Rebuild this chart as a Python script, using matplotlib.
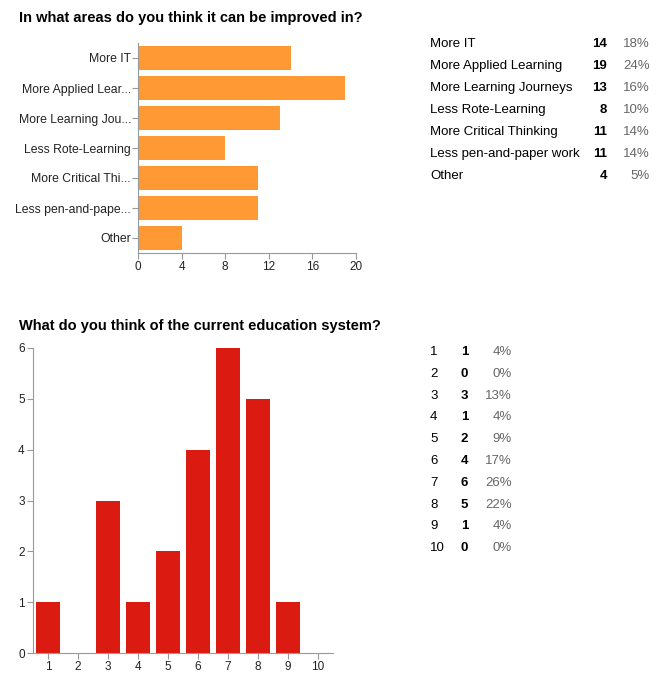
import matplotlib.pyplot as plt
import numpy as np

plt.rcParams['font.family'] = ['Liberation Sans', 'DejaVu Sans']

# top chart data
areas = ["More IT", "More Applied Learning", "More Learning Journeys", "Less Rote-Learning",
         "More Critical Thinking", "Less pen-and-paper work", "Other"]
area_short = ["More IT", "More Applied Lear...", "More Learning Jou...", "Less Rote-Learning",
              "More Critical Thi...", "Less pen-and-pape...", "Other"]
area_counts = [14, 19, 13, 8, 11, 11, 4]
area_pcts = ["18%", "24%", "16%", "10%", "14%", "14%", "5%"]

# bottom chart data
ratings = [1, 2, 3, 4, 5, 6, 7, 8, 9, 10]
rating_counts = [1, 0, 3, 1, 2, 4, 6, 5, 1, 0]
rating_pcts = ["4%", "0%", "13%", "4%", "9%", "17%", "26%", "22%", "4%", "0%"]

W, H = 671, 678
fig = plt.figure(figsize=(W / 100, H / 100), dpi=100)

def fx(px):
    return px / W

def fy(py):
    return 1 - py / H

grey = "#999999"

def style_axes(ax):
    for s in ["top", "right"]:
        ax.spines[s].set_visible(False)
    ax.spines["left"].set_color(grey)
    ax.spines["bottom"].set_color(grey)
    ax.tick_params(colors=grey, labelcolor="#222222", length=4, width=0.8, pad=2)

# ---- top chart ----
ax1 = fig.add_axes([fx(138), fy(253), fx(356 - 138), (253 - 43) / H])
ypos = np.arange(len(areas))
ax1.barh(ypos, area_counts, height=0.8, color="#FF9933")
ax1.set_ylim(len(areas) - 0.5, -0.5)
ax1.set_xlim(0, 20)
ax1.set_xticks([0, 4, 8, 12, 16, 20])
ax1.set_yticks(ypos)
ax1.set_yticklabels(area_short, fontsize=8.8)
ax1.tick_params(axis="x", labelsize=8.5)
style_axes(ax1)
ax1.tick_params(axis="y", pad=1)

fig.text(fx(19), fy(18), "In what areas do you think it can be improved in?",
         fontsize=10.5, fontweight="bold", va="center", ha="left")

for i, (name, c, p) in enumerate(zip(areas, area_counts, area_pcts)):
    y = fy(44 + 22 * i)
    fig.text(fx(430), y, name, fontsize=9.5, va="center", ha="left")
    fig.text(fx(607), y, str(c), fontsize=9.5, fontweight="bold", va="center", ha="right")
    fig.text(fx(650), y, p, fontsize=9.5, color="#666666", va="center", ha="right")

# ---- bottom chart ----
ax2 = fig.add_axes([fx(33), fy(653), fx(333 - 33), (653 - 348) / H])
ax2.bar(ratings, rating_counts, width=0.8, color="#DB1A12")
ax2.set_xlim(0.5, 10.5)
ax2.set_ylim(0, 6)
ax2.set_xticks(ratings)
ax2.set_yticks(range(7))
ax2.tick_params(labelsize=8.5)
style_axes(ax2)

fig.text(fx(19), fy(326), "What do you think of the current education system?",
         fontsize=10.5, fontweight="bold", va="center", ha="left")

for i, (r, c, p) in enumerate(zip(ratings, rating_counts, rating_pcts)):
    y = fy(352 + 21.8 * i)
    fig.text(fx(430), y, str(r), fontsize=9.5, va="center", ha="left")
    fig.text(fx(468), y, str(c), fontsize=9.5, fontweight="bold", va="center", ha="right")
    fig.text(fx(512), y, p, fontsize=9.5, color="#666666", va="center", ha="right")

fig.savefig("out.png", dpi=100)
